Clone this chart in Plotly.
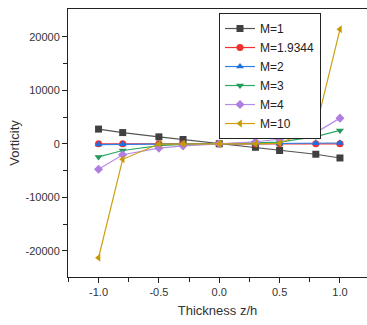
import plotly.graph_objects as go

x_vals = [-1.0, -0.8, -0.5, -0.3, 0.0, 0.3, 0.5, 0.8, 1.0]
m1 = [2750, 2100, 1300, 800, 0, -650, -1250, -1950, -2650]
m19344 = [0, 0, 0, 0, 0, 0, 0, 0, 0]
m2 = [-150, -80, -30, -10, 0, 10, 30, 80, 150]
m3 = [-2450, -1250, -350, -120, 0, 120, 300, 1350, 2500]
m4 = [-4750, -2050, -800, -380, 0, 380, 850, 2100, 4800]
m10 = [-21300, -2900, -50, 0, 0, 0, 100, 2900, 21400]

series = [
    ("M=1", m1, "#555555", "#404040", "square"),
    ("M=1.9344", m19344, "#f03030", "#f03030", "circle"),
    ("M=2", m2, "#2f7fe6", "#1f6fe0", "triangle-up"),
    ("M=3", m3, "#2da866", "#229a5a", "triangle-down"),
    ("M=4", m4, "#b98be8", "#b07de0", "diamond"),
    ("M=10", m10, "#cf9f10", "#c89800", "triangle-left"),
]

fig = go.Figure()
for name, ys, lc, mc, sym in series:
    fig.add_trace(go.Scatter(
        x=x_vals, y=ys, name=name, mode="lines+markers",
        line=dict(color=lc, width=1.2),
        marker=dict(symbol=sym, size=7, color=mc),
    ))

fig.update_layout(
    width=367, height=325,
    margin=dict(l=68, r=0, t=9, b=48),
    plot_bgcolor="white", paper_bgcolor="white",
    font=dict(family="Liberation Sans, Arial, sans-serif", color="#333333"),
    showlegend=True,
    legend=dict(
        x=0.505, y=0.985, xanchor="left", yanchor="top",
        bordercolor="#222222", borderwidth=1, bgcolor="white",
        font=dict(size=12, color="#222222"),
        tracegroupgap=0, itemwidth=30,
    ),
    xaxis=dict(
        range=[-1.253, 1.224], tickmode="array",
        tickvals=[-1.0, -0.5, 0.0, 0.5, 1.0],
        ticktext=["-1.0", "-0.5", "0.0", "0.5", "1.0"],
        ticks="outside", ticklen=5, tickcolor="#222222",
        minor=dict(tickvals=[-1.25, -0.75, -0.25, 0.25, 0.75], ticks="outside", ticklen=4, tickcolor="#222222"),
        showline=True, linecolor="#222222", linewidth=1, mirror=True,
        showgrid=False, zeroline=False,
        tickfont=dict(size=11),
        title=dict(text="Thickness z/h", font=dict(size=13), standoff=8),
    ),
    yaxis=dict(
        range=[-24900, 25200], tickmode="array",
        tickvals=[-20000, -10000, 0, 10000, 20000],
        ticktext=["-20000", "-10000", "0", "10000", "20000"],
        ticks="outside", ticklen=5, tickcolor="#222222",
        minor=dict(tickvals=[-15000, -5000, 5000, 15000], ticks="outside", ticklen=4, tickcolor="#222222"),
        showline=True, linecolor="#222222", linewidth=1, mirror=False,
        showgrid=False, zeroline=False,
        tickfont=dict(size=11),
        title=dict(text="Vorticity", font=dict(size=13), standoff=2),
    ),
)

fig.write_html("out.html")
